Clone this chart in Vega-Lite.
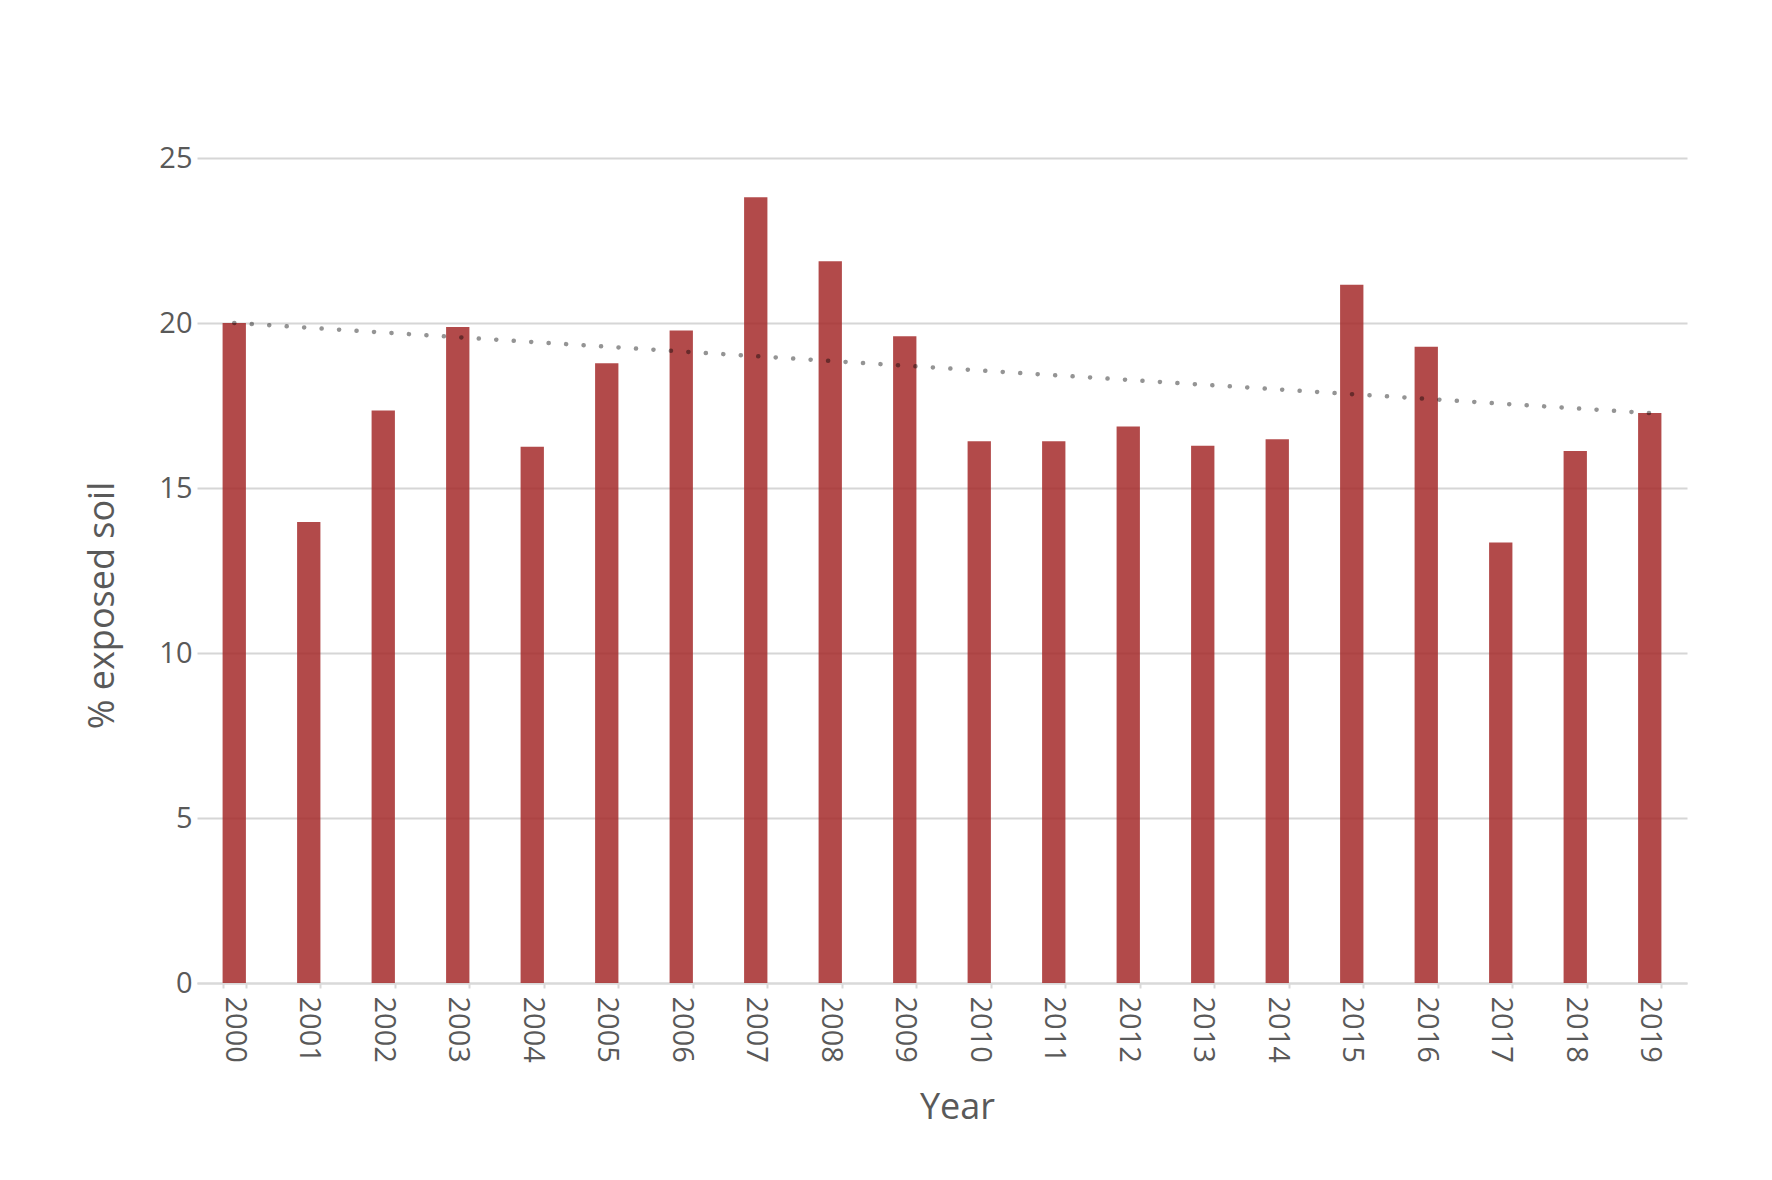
{
  "$schema": "https://vega.github.io/schema/vega-lite/v6.json",
  "width": 1490,
  "height": 825,
  "autosize": {"type": "none"},
  "padding": {"left": 197, "top": 158, "right": 85, "bottom": 197},
  "background": "white",
  "config": {
    "view": {"stroke": null},
    "font": "Open Sans",
    "axis": {
      "labelFont": "Open Sans",
      "titleFont": "Open Sans",
      "labelColor": "#595959",
      "titleColor": "#595959",
      "labelFontSize": 29,
      "titleFontSize": 36,
      "titleFontWeight": "normal"
    }
  },
  "datasets": {
    "soil": [
      {"year": "2000", "value": 20.0},
      {"year": "2001", "value": 13.97},
      {"year": "2002", "value": 17.35},
      {"year": "2003", "value": 19.88},
      {"year": "2004", "value": 16.25},
      {"year": "2005", "value": 18.78},
      {"year": "2006", "value": 19.77},
      {"year": "2007", "value": 23.81},
      {"year": "2008", "value": 21.87},
      {"year": "2009", "value": 19.60},
      {"year": "2010", "value": 16.42},
      {"year": "2011", "value": 16.42},
      {"year": "2012", "value": 16.86},
      {"year": "2013", "value": 16.28},
      {"year": "2014", "value": 16.48},
      {"year": "2015", "value": 21.16},
      {"year": "2016", "value": 19.28},
      {"year": "2017", "value": 13.35},
      {"year": "2018", "value": 16.12},
      {"year": "2019", "value": 17.27}
    ],
    "trend": [
      {"year": "2000", "value": 20.0},
      {"year": "2019", "value": 17.27}
    ]
  },
  "layer": [
    {
      "data": {"name": "soil"},
      "mark": {"type": "bar", "color": "#a52a2a", "opacity": 0.85},
      "encoding": {
        "x": {
          "field": "year",
          "type": "ordinal",
          "scale": {"paddingInner": 0.687, "paddingOuter": 0.3435},
          "axis": {
            "title": "Year",
            "labelAngle": 90,
            "labelPadding": 8,
            "tickBand": "extent",
            "ticks": true,
            "tickSize": 5,
            "tickWidth": 2,
            "tickColor": "#d9d9d9",
            "domainColor": "#d9d9d9",
            "domainWidth": 2,
            "grid": false,
            "titleX": 760,
            "titleY": 135,
            "titleBaseline": "alphabetic",
            "titleAlign": "center"
          }
        },
        "y": {
          "field": "value",
          "type": "quantitative",
          "scale": {"domain": [0, 25], "nice": false},
          "axis": {
            "title": "% exposed soil",
            "values": [0, 5, 10, 15, 20, 25],
            "domain": false,
            "ticks": false,
            "labelPadding": 5,
            "grid": true,
            "gridColor": "#d6d6d6",
            "gridWidth": 2,
            "titleAngle": -90,
            "titleX": -84,
            "titleY": 447,
            "titleAlign": "center",
            "titleBaseline": "alphabetic"
          }
        }
      }
    },
    {
      "data": {"name": "trend"},
      "mark": {
        "type": "line",
        "stroke": "#000000",
        "strokeOpacity": 0.42,
        "strokeWidth": 4.5,
        "strokeCap": "round",
        "strokeDash": [0.1, 17.4]
      },
      "encoding": {
        "x": {"field": "year", "type": "ordinal"},
        "y": {"field": "value", "type": "quantitative"}
      }
    }
  ]
}
